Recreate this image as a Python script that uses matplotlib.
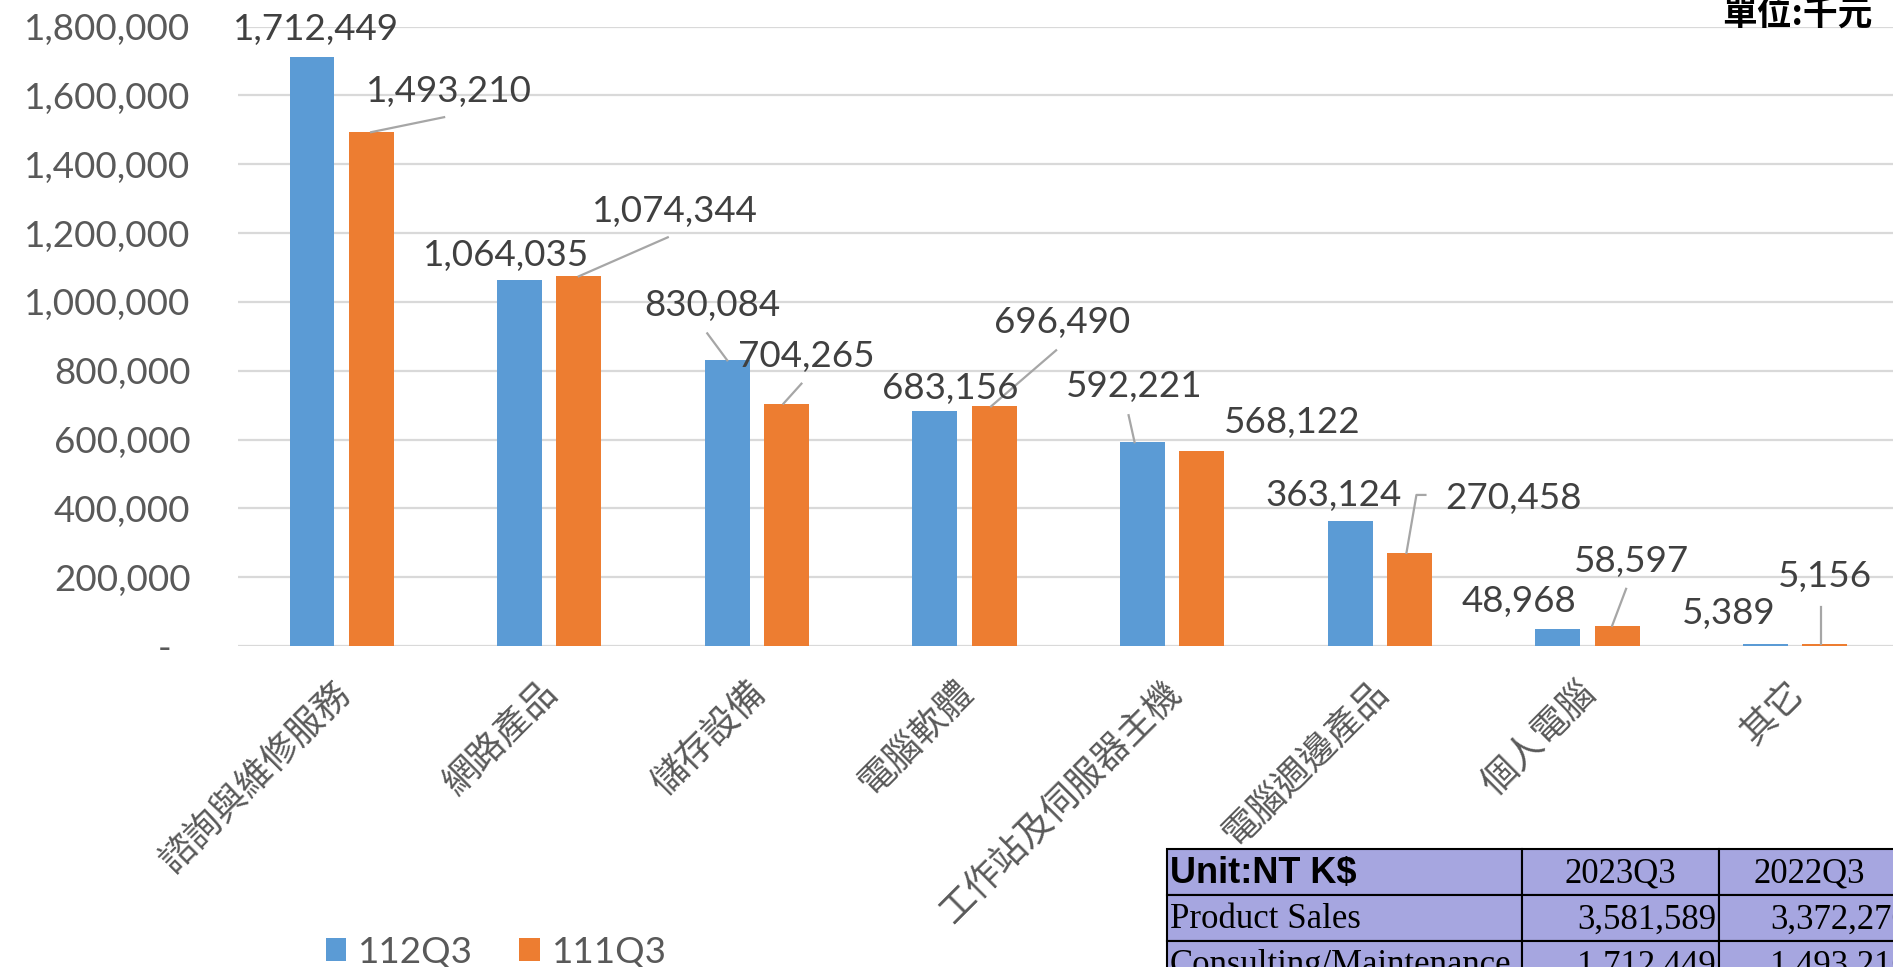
import matplotlib
matplotlib.use('Agg')
import matplotlib.pyplot as plt
from matplotlib.lines import Line2D
from matplotlib.patches import Rectangle
from matplotlib.transforms import IdentityTransform, ScaledTranslation

categories = ['諮詢與維修服務', '網路產品', '儲存設備', '電腦軟體',
              '工作站及伺服器主機', '電腦週邊產品', '個人電腦', '其它']
q3_112 = [1712449, 1064035, 830084, 683156, 592221, 363124, 48968, 5389]
q3_111 = [1493210, 1074344, 704265, 696490, 568122, 270458, 58597, 5156]
series_names = ['112Q3', '111Q3']
yticks = list(range(0, 1800001, 200000))

table_header = ['Unit:NT K$', '2023Q3', '2022Q3']
table_rows = [
    ['Product Sales', '3,581,589', '3,372,270'],
    ['Consulting/Maintenance', '1,712,449', '1,493,210'],
]
unit_text = '單位:千元'

# label offsets from bar top (pixels, y up) - labels were hand-placed in the original
blue_off = [(4, 27), (-14, 24), (-15, 55), (15, 22), (-8, 56), (-17, 26), (-39, 28), (-37, 31)]
orange_off = [(78, 41), (96, 65), (20, 47), (68, 84), (90, 28), (104, 54), (14, 64), (0, 68)]
blue_lead = {2: [(0, 0), (-20, 27)], 4: [(-8, 0), (-14, 27)]}
orange_lead = {0: [(0, 0), (73, 15)], 1: [(0, 0), (89, 39)], 2: [(-3, 0), (15, 20)],
               3: [(-3, 0), (62, 56)], 5: [(-3, 0), (7, 58), (16, 58)],
               6: [(-5, 0), (9, 37)], 7: [(-4, 0), (-4, 37)]}

W, H = 1893, 967
plt.rcParams['font.family'] = ['Lato', 'Noto Sans CJK TC', 'DejaVu Sans']
fig = plt.figure(figsize=(W / 100, H / 100), dpi=100)
ax = fig.add_axes([237.7 / W, (H - 646) / H, (1899 - 237.7) / W, (646 - 26.6) / H])

blue = '#5B9BD5'
orange = '#ED7D31'
grey = '#595959'
lab = '#404040'
fs = 26.5

x = list(range(len(categories)))
bw = 0.216
off = 0.1425
b1 = ax.bar([i - off for i in x], q3_112, bw, color=blue, label=series_names[0], zorder=2)
b2 = ax.bar([i + off for i in x], q3_111, bw, color=orange, label=series_names[1], zorder=2)

ax.set_xlim(-0.5, 7.5)
ax.set_ylim(0, 1800000)
ax.set_yticks(yticks)
ax.set_yticklabels(['-  ' if v == 0 else f'{v:,}' for v in yticks], fontsize=fs, color=grey)
ax.yaxis.grid(True, color='#D9D9D9', lw=1.6, zorder=0)
ax.set_axisbelow(True)
for s in ax.spines.values():
    s.set_visible(False)
ax.tick_params(axis='y', length=0, pad=34)
ax.tick_params(axis='x', length=0, pad=30)
ax.set_xticks(x)
ax.set_xticklabels(categories, rotation=45, ha='right', va='center', rotation_mode='anchor',
                   fontfamily='Noto Sans CJK TC', fontweight='light', fontsize=26, color=grey)
shift = ScaledTranslation(3 / 100, 0, fig.dpi_scale_trans)
for t in ax.get_xticklabels():
    t.set_transform(t.get_transform() + shift)

fig.canvas.draw()


def leader(xv, yv, pts):
    bx, by = ax.transData.transform((xv, yv))
    ax.add_line(Line2D([bx + p[0] for p in pts], [by + p[1] for p in pts],
                       transform=IdentityTransform(), color='#A6A6A6', lw=1.6, zorder=3))


for vals, offs, leads, sign in [(q3_112, blue_off, blue_lead, -1), (q3_111, orange_off, orange_lead, 1)]:
    for i, v in enumerate(vals):
        xv = i + sign * off
        ax.annotate(f'{v:,}', (xv, v), xytext=offs[i], textcoords='offset pixels',
                    ha='center', va='center', fontsize=fs, color=lab, zorder=4)
        if i in leads:
            leader(xv, v, leads[i])

fig.legend(handles=[b1, b2], labels=series_names, loc='center left',
           bbox_to_anchor=(326 / W, (H - 952) / H), ncol=2, frameon=False,
           fontsize=fs, labelcolor=grey, handlelength=0.55, handleheight=0.55,
           handletextpad=0.33, columnspacing=1.25, borderpad=0, borderaxespad=0)

# overlay in pixel units for the table and unit note
ov = fig.add_axes([0, 0, 1, 1], facecolor='none')
ov.set_xlim(0, W)
ov.set_ylim(H, 0)
ov.axis('off')

ov.text(1873, 25, unit_text, ha='right', va='baseline', fontsize=25, fontweight='bold',
        fontfamily='Noto Sans CJK TC', color='black')

cols = [1167, 1522, 1719, 1912]
rows = [849, 895, 941, 987]
for r in range(3):
    for c in range(3):
        ov.add_patch(Rectangle((cols[c], rows[r]), cols[c + 1] - cols[c], rows[r + 1] - rows[r],
                               facecolor='#A6A6E0', edgecolor='black', lw=1.5, clip_on=False))
ov.text(cols[0] + 3, (rows[0] + rows[1]) / 2 + 2, table_header[0], ha='left', va='center',
        fontsize=26, fontweight='bold', fontfamily='Liberation Sans', color='black')
hdr_x = [None, (cols[1] + cols[2]) / 2, (cols[2] + 1899) / 2]
for c in (1, 2):
    ov.text(hdr_x[c], (rows[0] + rows[1]) / 2 + 2, table_header[c],
            ha='center', va='center', fontsize=25, fontfamily='Liberation Serif', color='black')
for r, row in enumerate(table_rows, start=1):
    yc = (rows[r] + rows[r + 1]) / 2 + 2
    ov.text(cols[0] + 3, yc, row[0], ha='left', va='center', fontsize=25,
            fontfamily='Liberation Serif', color='black')
    for c in (1, 2):
        ov.text(cols[c + 1] - 3, yc, row[c], ha='right', va='center', fontsize=25,
                fontfamily='Liberation Serif', color='black')

fig.savefig('out.png', dpi=100)
